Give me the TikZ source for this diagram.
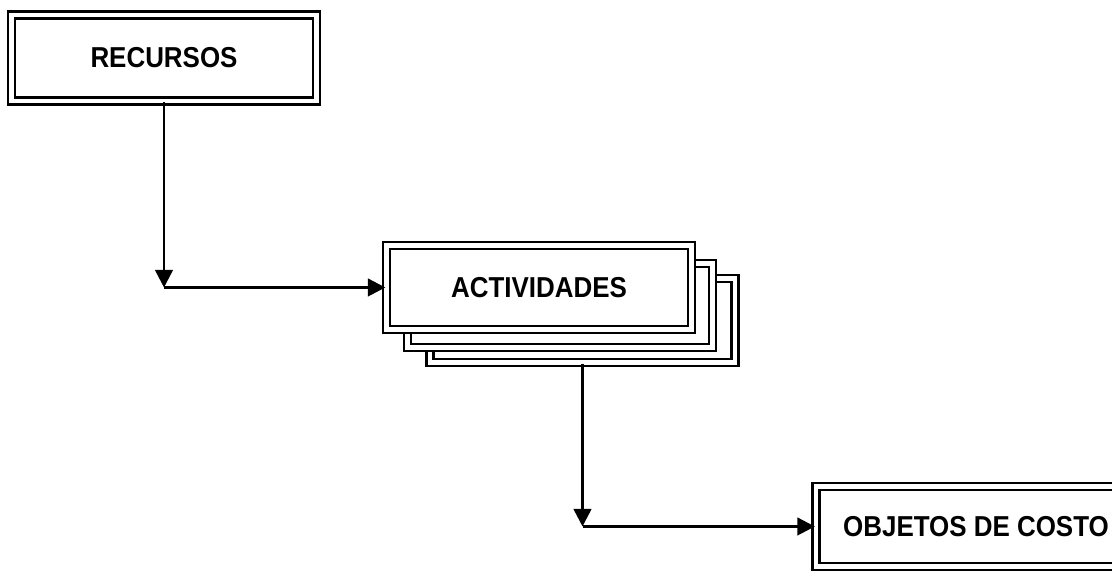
\documentclass[tikz,border=0pt]{standalone}
\usepackage{fontspec}
\setmainfont{Liberation Sans}[FakeStretch=0.9]
\usepackage{tikz}
\usetikzlibrary{positioning,arrows.meta}

\begin{document}
\begin{tikzpicture}[
  font=\fontsize{8.2}{9.8}\selectfont\bfseries,
  box/.style={draw, rectangle, fill=white, double, double distance=1.4pt, line width=0.65pt, align=center, minimum width=3.05cm, minimum height=0.84cm},
  arr/.style={-{Triangle[length=5pt, width=5pt]}, line width=0.75pt}
]
\clip (0,0) rectangle (11.12,5.73);
\node[box, minimum height=0.86cm] (rec) at (1.64,5.15) {RECURSOS};
\node[box] (act3) at (5.825,2.525) {};
\node[box] (act2) at (5.60,2.675) {};
\node[box] (act) at (5.39,2.855) {ACTIVIDADES};
\node[box, minimum width=3.2cm, minimum height=0.8cm] (obj) at (9.76,0.465) {OBJETOS DE COSTO};
\coordinate (k1) at (rec.south |- act.west);
\coordinate (k2) at (act3.south |- obj.west);
\draw[arr] (rec.south) -- (k1);
\draw[arr] (k1) -- (act.west);
\draw[arr] (act3.south) -- (k2);
\draw[arr] (k2) -- (obj.west);
\end{tikzpicture}
\end{document}
